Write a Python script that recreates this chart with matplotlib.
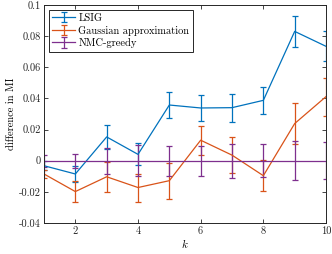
import matplotlib
matplotlib.use("Agg")
import matplotlib.pyplot as plt

plt.rcParams['font.family'] = 'serif'
plt.rcParams['font.serif'] = ['cmr10', 'DejaVu Serif']
plt.rcParams['mathtext.fontset'] = 'cm'
plt.rcParams['axes.formatter.use_mathtext'] = True

k = [1, 2, 3, 4, 5, 6, 7, 8, 9, 10]
lsig = [-0.0032, -0.0085, 0.0153, 0.0041, 0.0358, 0.0339, 0.0341, 0.0388, 0.0831, 0.0735]
lsig_err = [0.003, 0.0053, 0.0078, 0.007, 0.0082, 0.0085, 0.009, 0.0085, 0.0100, 0.0097]
gauss = [-0.0085, -0.0198, -0.0103, -0.0172, -0.0128, 0.0132, 0.0036, -0.0096, 0.0239, 0.0412]
gauss_err = [0.0027, 0.0065, 0.0095, 0.009, 0.0115, 0.0093, 0.0117, 0.0101, 0.013, 0.0122]
nmc = [0, 0, 0, 0, 0, 0, 0, 0, 0, 0]
nmc_err = [0.0038, 0.0046, 0.0085, 0.0099, 0.0096, 0.0096, 0.0108, 0.0107, 0.0126, 0.012]

labels = ['LSIG', 'Gaussian approximation', 'NMC-greedy']
colors = ['#0072BD', '#D95319', '#7E2F8E']

fig = plt.figure(figsize=(3.32, 2.54), dpi=100)
ax = fig.add_axes([0.1325, 0.122, 0.8495, 0.858])

for y, e, c, lab in zip([lsig, gauss, nmc], [lsig_err, gauss_err, nmc_err], colors, labels):
    ax.errorbar(k, y, yerr=e, color=c, lw=0.9, elinewidth=0.9, capsize=2, capthick=0.9, label=lab)

ax.set_xlim(1, 10)
ax.set_ylim(-0.04, 0.1)
ax.set_xticks([2, 4, 6, 8, 10])
ax.set_yticks([-0.04, -0.02, 0, 0.02, 0.04, 0.06, 0.08, 0.1])
ax.set_yticklabels(['-0.04', '-0.02', '0', '0.02', '0.04', '0.06', '0.08', '0.1'])
ax.set_xticklabels(['2', '4', '6', '8', '10'])
ax.tick_params(direction='in', top=True, right=True, labelsize=7.5, length=3, width=0.6, colors='#262626', pad=2.5)
for s in ax.spines.values():
    s.set_linewidth(0.7)
    s.set_color('#262626')
ax.set_xlabel('$k$', fontsize=8, labelpad=1)
ax.set_ylabel('difference in MI', fontsize=7.5, labelpad=2)

leg = ax.legend(loc='upper left', fontsize=7.5, frameon=True, fancybox=False, edgecolor='#262626',
                framealpha=1, borderpad=0.35, handlelength=2.2, handletextpad=0.3, labelspacing=0.25,
                borderaxespad=0.45)
leg.get_frame().set_linewidth(0.7)

fig.savefig('out.png', dpi=100)
